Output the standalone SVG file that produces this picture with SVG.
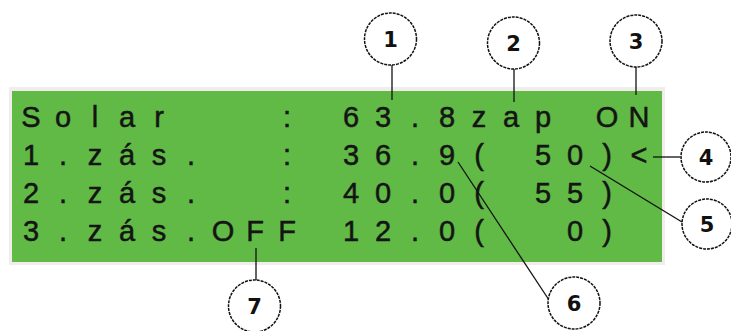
<svg xmlns="http://www.w3.org/2000/svg" width="731" height="331" viewBox="0 0 731 331">
<style>
.lcd{font-family:"Liberation Sans",Arial,sans-serif;font-size:29px;fill:#141414;stroke:#141414;stroke-width:0.5;text-anchor:middle}
.c{fill:#fff;stroke:#111;stroke-width:1.5;stroke-dasharray:3 1}
.n{font-family:"DejaVu Sans",Verdana,sans-serif;font-weight:bold;font-size:21px;fill:#111;text-anchor:middle}
.ln{stroke:#111;stroke-width:1.3;fill:none}
</style>
<rect width="731" height="331" fill="#fff"/>
<g id="lcd">
<rect x="9" y="87" width="656" height="178" fill="#f1eded"/>
<rect x="12" y="91" width="650" height="171" fill="#60ba45"/>
<text class="lcd" xml:space="preserve" x="31 63 95 127 159 191 223 255 287 319 351 383 415 447 479 511 543 575 607 639" y="127">Solar   : 63.8zap ON</text>
<text class="lcd" xml:space="preserve" x="31 63 95 127 159 191 223 255 287 319 351 383 415 447 479 511 543 575 607 639" y="165">1.zás.  : 36.9( 50)&lt;</text>
<text class="lcd" xml:space="preserve" x="31 63 95 127 159 191 223 255 287 319 351 383 415 447 479 511 543 575 607 639" y="203">2.zás.  : 40.0( 55)</text>
<text class="lcd" xml:space="preserve" x="31 63 95 127 159 191 223 255 287 319 351 383 415 447 479 511 543 575 607" y="241">3.zás.OFF 12.0(  0)</text>
</g>
<g id="connectors">
<line class="ln" x1="392" y1="65" x2="392" y2="100"/>
<line class="ln" x1="514" y1="69" x2="514" y2="102"/>
<line class="ln" x1="636" y1="67" x2="636" y2="95"/>
<line class="ln" x1="653" y1="157" x2="680" y2="157"/>
<line class="ln" x1="590" y1="166" x2="682" y2="222"/>
<line class="ln" x1="458" y1="162" x2="549" y2="300"/>
<line class="ln" x1="256" y1="248" x2="256" y2="280"/>
</g>
<g id="callout1"><circle class="c" cx="390.5" cy="39" r="26"/><text class="n" x="390.5" y="47">1</text></g>
<g id="callout2"><circle class="c" cx="513.5" cy="43" r="26"/><text class="n" x="513.5" y="51">2</text></g>
<g id="callout3"><circle class="c" cx="636" cy="41" r="26"/><text class="n" x="636" y="49">3</text></g>
<g id="callout4"><circle class="c" cx="706" cy="157" r="25"/><text class="n" x="706" y="165">4</text></g>
<g id="callout5"><circle class="c" cx="707" cy="224" r="25"/><text class="n" x="707" y="232">5</text></g>
<g id="callout6"><circle class="c" cx="574" cy="303" r="26"/><text class="n" x="574" y="311">6</text></g>
<g id="callout7"><circle class="c" cx="254.5" cy="306" r="26"/><text class="n" x="254.5" y="314">7</text></g>
</svg>
